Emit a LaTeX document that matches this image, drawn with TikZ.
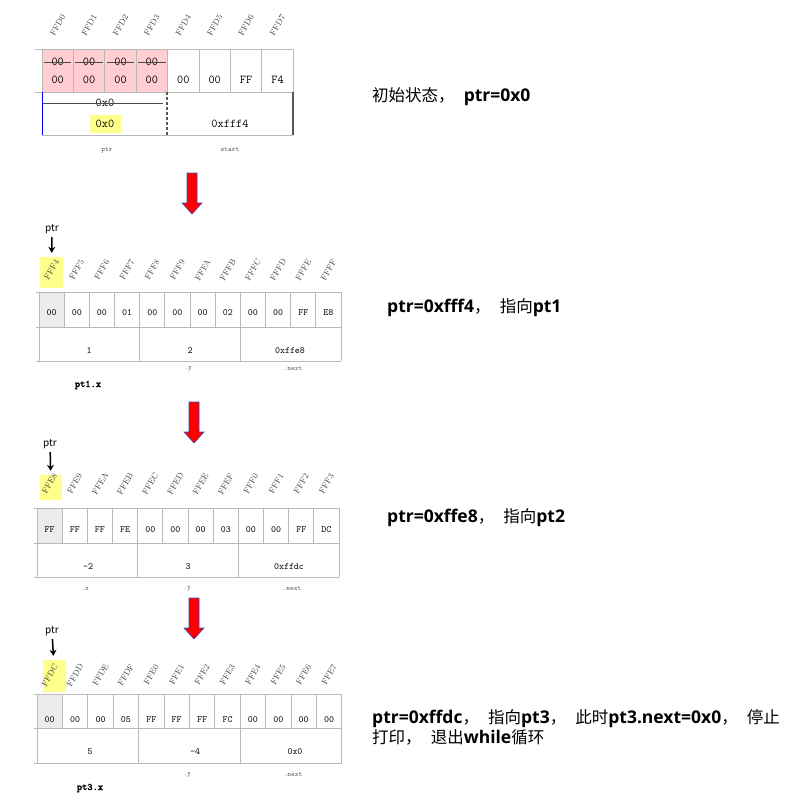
\documentclass[tikz,border=0pt]{standalone}
\usepackage{fontspec}
\newfontfamily\cjk{Noto Sans CJK SC}
\newfontfamily\lat{Open Sans}
\newfontfamily\ttbold{Latin Modern Mono}[FakeBold=2.5]
\usetikzlibrary{positioning,arrows.meta}
\definecolor{cellpink}{RGB}{255,205,210}
\definecolor{firstgray}{RGB}{236,236,236}
\definecolor{hlyellow}{RGB}{255,255,140}

\newcommand{\enb}[1]{{\lat\bfseries\fontsize{17.5}{20}\selectfont #1}}
\newcommand{\zhsep}{\hspace{0.55em}}
% red down arrow, top of the shaft at (#1,#2)
\newcommand{\redarrow}[2]{%
  \draw[bigarrow] (#1,#2) ++(-5,0) -- ++(10,0) -- ++(0,30) -- ++(5,0) -- ++(-10,11) -- ++(-10,-11) -- ++(5,0) -- cycle;}

\tikzset{
  cellline/.style={draw=gray!55, line width=0.8pt},
  hexa/.style={font=\ttfamily\fontsize{9.5}{9.5}\selectfont, inner sep=1pt},
  hexbig/.style={font=\ttfamily\fontsize{12}{12}\selectfont, inner sep=1pt},
  addr/.style={font=\rmfamily\fontsize{8.5}{8.5}\selectfont, text=black!75, rotate=60, inner sep=0pt},
  field/.style={font=\ttfamily\fontsize{7}{7}\selectfont, text=black!65},
  ptxlab/.style={font=\ttbold\fontsize{10}{10}\selectfont},
  ptrlab/.style={font=\cjk\fontsize{10}{10}\selectfont},
  ptrarrow/.style={-{Stealth[length=6pt,width=7pt]}, line width=1.5pt, shorten >=4pt},
  hl/.style={fill=hlyellow, minimum width=23pt, minimum height=31pt, inner sep=0pt},
  note/.style={font=\cjk\fontsize{16.5}{20}\selectfont, anchor=west, align=left, inner sep=0pt},
  bigarrow/.style={fill=red, draw=blue!45!gray, line width=0.6pt},
  strike/.style={draw=black!70, line width=0.9pt},
}

\begin{document}
\begin{tikzpicture}[x=1pt,y=-1pt]
	\useasboundingbox (0,0) rectangle (800,803);

	% initial state
	\fill[cellpink] (42,49) rectangle (167.6,92);
	\foreach \lab/\val [count=\i from 0] in {FFD0/00,FFD1/00,FFD2/00,FFD3/00,FFD4/00,FFD5/00,FFD6/FF,FFD7/F4} {
		\node[addr] (hA\i) at ({57.7+31.4*\i},25) {\lab};
		\node[hexbig] (vA\i) at ({57.7+31.4*\i},80) {\val};
		\draw[cellline] ({42+31.4*\i},49) -- ++(0,43);
	}
	\foreach \i in {0,...,3} {
		\node[hexbig] (oA\i) at ({57.7+31.4*\i},62) {00};
		\draw[strike] ({44+31.4*\i},62) -- ++(27.4,0);
	}
	\draw[cellline] (293,49) -- (293,92);
	\draw[cellline] (35,49) -- (293,49) (35,92) -- (293,92) (42,135) -- (293,135);
	\draw[blue, line width=1pt] (42,92) -- (42,135);
	\draw[gray!70!black, line width=2pt, dash pattern=on 3pt off 2pt] (167,92) -- (167,135);
	\draw[gray!70!black, line width=2pt] (293,92) -- (293,135);
	\node[hexbig] (oldptr) at (105,103) {0x0};
	\draw[strike] (43,103) -- (163,103);
	\node[hexbig, fill=hlyellow, minimum width=31pt, minimum height=18pt] (ptrA) at (105,124) {0x0};
	\node[hexbig] (startA) at (230,124) {0xfff4};
	\node[field] (fA1) at (107,150) {ptr};
	\node[field] (fA2) at (230,150) {start};
	\node[note] (nA) at (372,97) {初始状态，\zhsep\enb{ptr=0x0}};

	% ptr -> pt1
	\redarrow{192}{173}
	\node[hl] (hlB) at (51.5,272.5) {};
	\node[ptrlab] (pB) at (52,229) {ptr};
	\draw[ptrarrow] (pB) -- (hlB);
	\fill[firstgray] (39,292) rectangle ++(25.17,35);
	\foreach \lab/\val [count=\i from 0] in {FFF4/00,FFF5/00,FFF6/00,FFF7/01,FFF8/00,FFF9/00,FFFA/00,FFFB/02,FFFC/00,FFFD/00,FFFE/FF,FFFF/E8} {
		\node[addr] (hB\i) at ({51.6+25.17*\i},270) {\lab};
		\node[hexa] (vB\i) at ({51.6+25.17*\i},313) {\val};
	}
	\foreach \i in {0,...,12} \draw[cellline] ({39+25.17*\i},292) -- ++(0,35);
	\foreach \i in {0,4,8,12} \draw[cellline] ({39+25.17*\i},327) -- ++(0,34);
	\draw[cellline] (36,292) -- (341,292) (36,327) -- (341,327) (36,361) -- (341,361);
	\node[hexa] (xB) at (89,351) {1};
	\node[hexa] (yB) at (190,351) {2};
	\node[hexa] (nxB) at (290,351) {0xffe8};
	\node[field] (fB2) at (188,369) {.y};
	\node[field] (fB3) at (293,369) {.next};
	\node[ptxlab] (pxB) at (88,385) {pt1.x};
	\node[note] (nB) at (387,308) {\enb{ptr=0xfff4}，\zhsep 指向\enb{pt1}};

	% ptr -> pt2
	\redarrow{194}{402}
	\node[hl, minimum width=22pt, minimum height=25pt] (hlC) at (51,487.5) {};
	\node[ptrlab] (pC) at (50,444) {ptr};
	\draw[ptrarrow] (pC) -- (hlC);
	\fill[firstgray] (37,508) rectangle ++(25.17,35);
	\foreach \lab/\val [count=\i from 0] in {FFE8/FF,FFE9/FF,FFEA/FF,FFEB/FE,FFEC/00,FFED/00,FFEE/00,FFEF/03,FFF0/00,FFF1/00,FFF2/FF,FFF3/DC} {
		\node[addr] (hC\i) at ({49.6+25.17*\i},484) {\lab};
		\node[hexa] (vC\i) at ({49.6+25.17*\i},530) {\val};
	}
	\foreach \i in {0,...,12} \draw[cellline] ({37+25.17*\i},508) -- ++(0,35);
	\foreach \i in {0,4,8,12} \draw[cellline] ({37+25.17*\i},543) -- ++(0,34);
	\draw[cellline] (34,508) -- (339,508) (34,543) -- (339,543) (34,577) -- (339,577);
	\node[hexa] (xC) at (88,567) {-2};
	\node[hexa] (yC) at (188,567) {3};
	\node[hexa] (nxC) at (289,567) {0xffdc};
	\node[field] (fC1) at (85,589) {.x};
	\node[field] (fC2) at (187,589) {.y};
	\node[field] (fC3) at (292,589) {.next};
	\node[note] (nC) at (387,518) {\enb{ptr=0xffe8}，\zhsep 指向\enb{pt2}};

	% ptr -> pt3
	\redarrow{194}{598}
	\node[hl, minimum height=32pt] (hlD) at (54.5,676) {};
	\node[ptrlab] (pD) at (52,631) {ptr};
	\draw[ptrarrow] (pD) -- (hlD);
	\fill[firstgray] (37,694) rectangle ++(25.4,34);
	\foreach \lab/\val [count=\i from 0] in {FFDC/00,FFDD/00,FFDE/00,FFDF/05,FFE0/FF,FFE1/FF,FFE2/FF,FFE3/FC,FFE4/00,FFE5/00,FFE6/00,FFE7/00} {
		\node[addr] (hD\i) at ({49.7+25.4*\i},675) {\lab};
		\node[hexa] (vD\i) at ({49.7+25.4*\i},720) {\val};
	}
	\foreach \i in {0,...,12} \draw[cellline] ({37+25.4*\i},694) -- ++(0,34);
	\foreach \i in {0,4,8,12} \draw[cellline] ({37+25.4*\i},728) -- ++(0,35);
	\draw[cellline] (34,694) -- (342,694) (34,728) -- (342,728) (34,763) -- (342,763);
	\node[hexa] (xD) at (90,752) {5};
	\node[hexa] (yD) at (195,752) {-4};
	\node[hexa] (nxD) at (295,752) {0x0};
	\node[field] (fD2) at (187,775) {.y};
	\node[field] (fD3) at (293,775) {.next};
	\node[ptxlab] (pxD) at (90,788) {pt3.x};
	\node[note] (nD) at (372,727) {\enb{ptr=0xffdc}，\zhsep 指向\enb{pt3}，\zhsep 此时\enb{pt3.next=0x0}，\zhsep 停止\\打印，\zhsep 退出\enb{while}循环};
\end{tikzpicture}
\end{document}
